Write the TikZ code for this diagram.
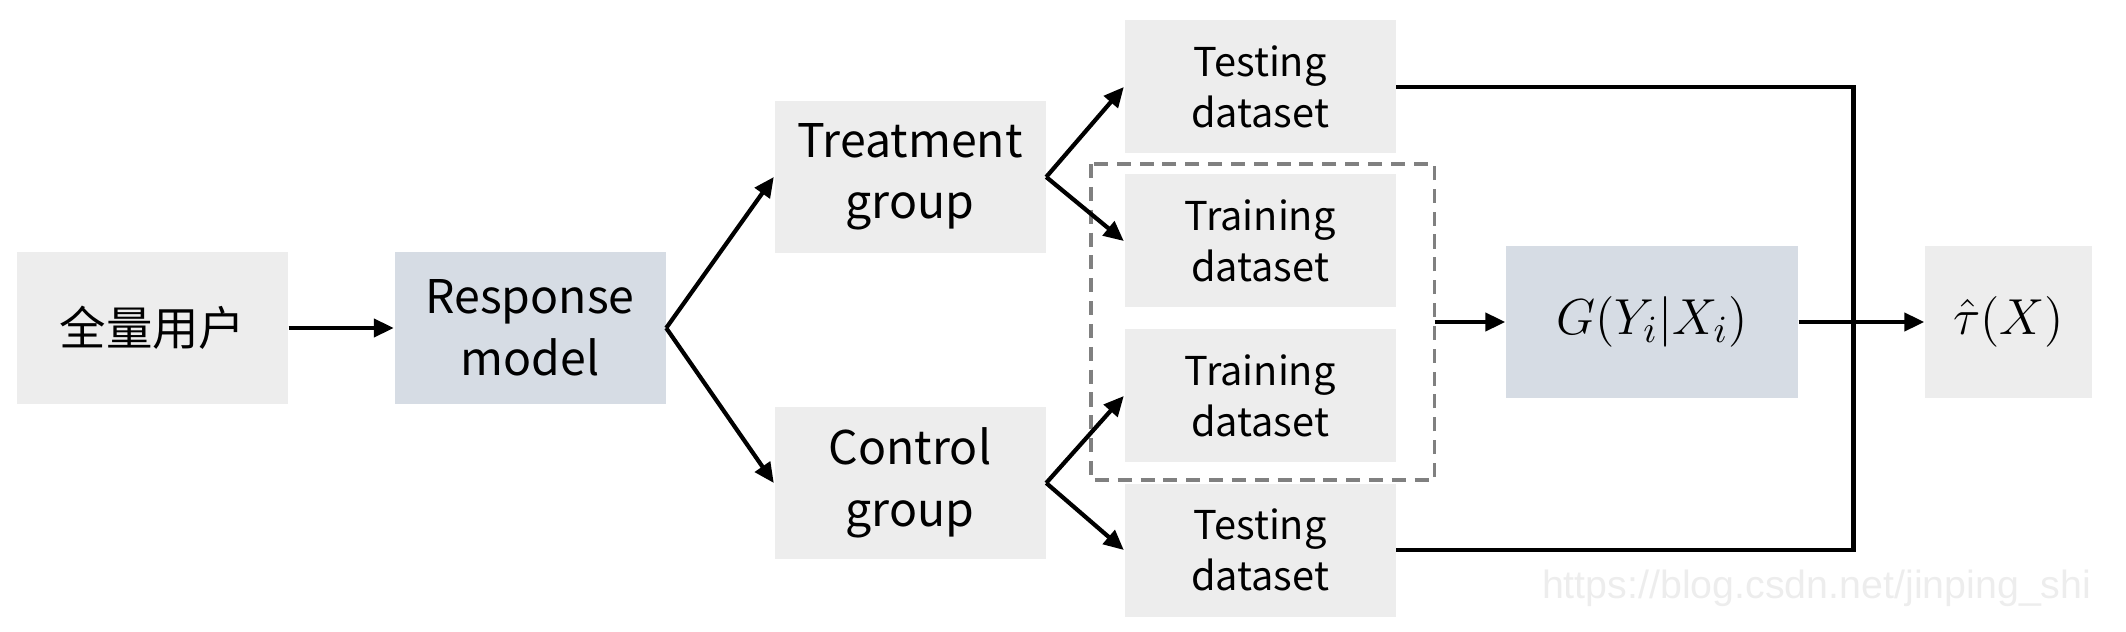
\documentclass[tikz,border=0pt]{standalone}
\usepackage{fontspec}
\setmainfont{Noto Sans CJK SC}
\newfontfamily\wmfont{Liberation Sans}
\usepackage{tikz}
\usetikzlibrary{arrows.meta,positioning,calc}
\definecolor{boxgray}{HTML}{EDEDED}
\definecolor{boxblue}{HTML}{D6DCE4}
\definecolor{dashgray}{HTML}{808080}
\tikzset{
  stagebox/.style={rectangle, fill=boxgray, inner sep=0pt, align=center, minimum width=27.1mm, minimum height=15.2mm, font=\fontsize{13.2}{17.5}\selectfont},
  modelbox/.style={stagebox, fill=boxblue},
  databox/.style={stagebox, minimum height=13.3mm, font=\fontsize{11.3}{14.4}\selectfont},
  groupframe/.style={draw=dashgray, dash pattern=on 4pt off 2.5pt, line width=0.9pt},
  flow/.style={draw, line width=1.2pt, -{Triangle[length=2mm, width=1.8mm]}},
  joinline/.style={draw, line width=1.2pt}
}
\begin{document}
\begin{tikzpicture}[x=0.1mm, y=-0.1mm]
\useasboundingbox (0,0) rectangle (2126,632);
\node[stagebox] (users) at (152.5,328) {全量用户};
\node[modelbox] (resp) at (530,328) {Response\\model};
\node[stagebox] (treat) at (910,177) {Treatment\\group};
\node[stagebox] (ctrl) at (910,483) {Control\\group};
\node[databox] (testT) at (1260,87) {Testing\\dataset};
\node[databox] (trainT) at (1260,241) {Training\\dataset};
\node[databox] (trainC) at (1260,396) {Training\\dataset};
\node[databox] (testC) at (1260,550) {Testing\\dataset};
\coordinate (frameNW) at (1091,164);
\coordinate (frameSE) at (1434.5,480);
\coordinate (frameE) at (1434.5,322);
\draw[groupframe] (frameNW) rectangle (frameSE);
\node[modelbox, minimum width=29.2mm, font=\fontsize{15}{18}\selectfont] (gmodel) at (1652,322) {$G(Y_i|X_i)$};
\node[stagebox, minimum width=16.7mm, font=\fontsize{15}{18}\selectfont] (tau) at (2008.5,322) {$\hat{\tau}(X)$};
\coordinate (join) at (1853.5,322);
\node[font=\wmfont\fontsize{11.2}{13}\selectfont, text=black!7, anchor=east, inner sep=0pt] (mark) at (2092,588) {https://blog.csdn.net/jinping\_shi};
\draw[flow] (users) -- (resp);
\draw[flow] (resp.east) -- (treat.west);
\draw[flow] (resp.east) -- (ctrl.west);
\draw[flow] (treat.east) -- (testT.west);
\draw[flow] (treat.east) -- (trainT.west);
\draw[flow] (ctrl.east) -- (trainC.west);
\draw[flow] (ctrl.east) -- (testC.west);
\draw[joinline] (testT.east) -| (join);
\draw[joinline] (testC.east) -| (join);
\draw[flow] (frameE) -- (gmodel.west);
\draw[flow] (gmodel.east) -- (tau.west);
\end{tikzpicture}
\end{document}
